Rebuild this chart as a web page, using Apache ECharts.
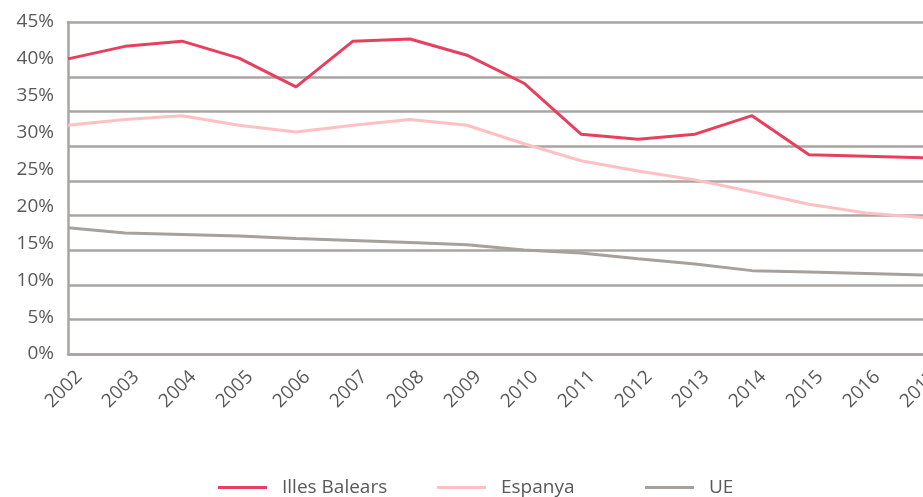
<!DOCTYPE html>
<html>
<head>
<meta charset="utf-8">
<script src="https://cdn.jsdelivr.net/npm/echarts@6/dist/echarts.min.js"></script>
<style>html,body{margin:0;padding:0;background:#fff;}#c{width:923px;height:497px;}</style>
</head>
<body>
<div id="c"></div>
<script>
const years = ['2002','2003','2004','2005','2006','2007','2008','2009','2010','2011','2012','2013','2014','2015','2016','2017'];
const illesBalears = [40.0, 41.7, 42.4, 40.1, 36.2, 42.4, 42.7, 40.5, 36.7, 29.8, 29.1, 29.8, 32.3, 27.0, 26.8, 26.6];
const espanya = [31.0, 31.8, 32.3, 31.0, 30.1, 31.0, 31.8, 31.0, 28.5, 26.2, 24.8, 23.6, 22.0, 20.3, 19.1, 18.5];
const ue = [17.1, 16.4, 16.2, 16.0, 15.65, 15.4, 15.1, 14.8, 14.1, 13.7, 12.9, 12.2, 11.3, 11.1, 10.9, 10.7];
const seriesNames = ['Illes Balears', 'Espanya', 'UE'];
const colors = ['#E6405E', '#FFC0C1', '#A7A19D'];
const legendLeft = [213, 432, 640];
const gridColor = '#A9A4A0';
const textColor = '#595959';
const font = '"Open Sans"';

const legends = seriesNames.map((name, i) => ({
  top: 473, left: legendLeft[i],
  data: [name],
  icon: 'rect', itemWidth: 49, itemHeight: 3,
  textStyle: {color: textColor, fontSize: 19, fontFamily: font, padding: [0,0,0,10]}
}));

const chart = echarts.init(document.getElementById('c'), null, {renderer: 'canvas'});
chart.setOption({
  animation: false,
  backgroundColor: '#fff',
  grid: [
    {left: 68, right: 0, top: 22, bottom: 143, containLabel: false, outerBoundsMode: 'none'},
    {left: 68, right: 0, top: 77, bottom: 143, containLabel: false, outerBoundsMode: 'none'}
  ],
  legend: legends,
  xAxis: [
    {type: 'category', gridIndex: 0, data: years, boundaryGap: false,
     axisLine: {show: true, lineStyle: {color: gridColor, width: 2.5}},
     axisTick: {show: false},
     axisLabel: {rotate: 45, color: textColor, fontSize: 19, fontFamily: font, margin: 31, interval: 0,
                 align: 'center', padding: [0, 12, 0, 0], hideOverlap: false},
     splitLine: {show: false}},
    {type: 'category', gridIndex: 0, data: years, boundaryGap: false, position: 'top',
     axisLine: {show: true, lineStyle: {color: gridColor, width: 2.5}},
     axisTick: {show: false}, axisLabel: {show: false}, splitLine: {show: false}},
    {type: 'category', gridIndex: 1, data: years, boundaryGap: false, show: false}
  ],
  yAxis: [
    {type: 'value', gridIndex: 0, min: 0, max: 45, interval: 5,
     axisLine: {show: true, lineStyle: {color: gridColor, width: 2.5}},
     axisTick: {show: false},
     axisLabel: {color: textColor, fontSize: 19, fontFamily: font, margin: 14, formatter: '{value}%'},
     splitLine: {show: false}},
    {type: 'value', gridIndex: 1, min: 0, max: 40, interval: 5,
     axisLine: {show: false}, axisTick: {show: false}, axisLabel: {show: false},
     splitLine: {show: true, lineStyle: {color: gridColor, width: 2.5}}}
  ],
  series: [
    {name: seriesNames[1], type: 'line', data: espanya, xAxisIndex: 0, yAxisIndex: 0, symbol: 'none', z: 3,
     lineStyle: {color: colors[1], width: 3}, itemStyle: {color: colors[1]}},
    {name: seriesNames[2], type: 'line', data: ue, xAxisIndex: 0, yAxisIndex: 0, symbol: 'none', z: 3,
     lineStyle: {color: colors[2], width: 3}, itemStyle: {color: colors[2]}},
    {name: seriesNames[0], type: 'line', data: illesBalears, xAxisIndex: 0, yAxisIndex: 0, symbol: 'none', z: 4,
     lineStyle: {color: colors[0], width: 3}, itemStyle: {color: colors[0]}}
  ]
});
</script>
</body>
</html>
